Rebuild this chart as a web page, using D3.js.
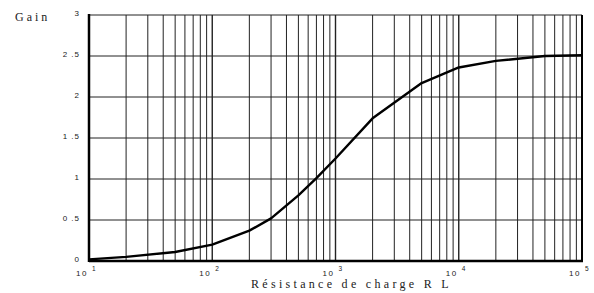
<!DOCTYPE html>
<html>
<head>
<meta charset="utf-8">
<script src="https://cdn.jsdelivr.net/npm/d3@7"></script>
<style>
  body { margin: 0; background: #fff; }
  svg { display: block; }
</style>
</head>
<body>
<div class="graphic"></div>
<script>
var resistance = [10, 20, 50, 100, 200, 300, 500, 700, 1000, 2000, 5000, 10000, 20000, 50000, 100000]
var gain       = [0.02, 0.05, 0.11, 0.20, 0.37, 0.52, 0.80, 1.01, 1.25, 1.74, 2.17, 2.36, 2.44, 2.50, 2.51]
var gainTicks  = [0, 0.5, 1, 1.5, 2, 2.5, 3]
var decades    = [1, 2, 3, 4, 5]

var svg_width = 594, svg_height = 293
// note: "top" is taken by window.top, so plot edges get a prefix
var plotLeft = 89, plotRight = 582, plotTop = 15, plotBottom = 261

var svg = d3.select(".graphic")
  .append("svg")
  .attr("width", svg_width)
  .attr("height", svg_height)

var x = d3.scaleLog().domain([10, 100000]).range([plotLeft, plotRight])
var y = d3.scaleLinear().domain([0, 3]).range([plotBottom, plotTop])

// vertical grid: 1..9 inside each decade
var gridX = []
decades.slice(0, -1).forEach(function(p){
  for (var k = 1; k < 10; k++) gridX.push(k * Math.pow(10, p))
})
gridX.push(100000)

svg.append("g").selectAll("line")
  .data(gridX)
  .enter()
  .append("line")
  .attr("x1", function(d){ return x(d) })
  .attr("x2", function(d){ return x(d) })
  .attr("y1", plotTop)
  .attr("y2", plotBottom)
  .attr("stroke", "#222")
  .attr("stroke-width", function(d){ return (Math.log10(d) % 1 === 0) ? 1.4 : 1 })

// horizontal grid
svg.append("g").selectAll("line")
  .data(gainTicks)
  .enter()
  .append("line")
  .attr("x1", plotLeft)
  .attr("x2", plotRight)
  .attr("y1", function(d){ return y(d) })
  .attr("y2", function(d){ return y(d) })
  .attr("stroke", "#222")
  .attr("stroke-width", 1)

// frame: heavy left, bottom, right
svg.append("line").attr("x1", plotLeft).attr("x2", plotLeft).attr("y1", plotTop - 1).attr("y2", plotBottom + 1)
  .attr("stroke", "#000").attr("stroke-width", 2.5)
svg.append("line").attr("x1", plotLeft).attr("x2", plotRight + 1).attr("y1", plotBottom).attr("y2", plotBottom)
  .attr("stroke", "#000").attr("stroke-width", 2.5)
svg.append("line").attr("x1", plotRight).attr("x2", plotRight).attr("y1", plotTop).attr("y2", plotBottom)
  .attr("stroke", "#000").attr("stroke-width", 2)

// curve
var line = d3.line()
  .x(function(d){ return x(d[0]) })
  .y(function(d){ return y(d[1]) })

svg.append("path")
  .datum(d3.zip(resistance, gain))
  .attr("d", line)
  .attr("fill", "none")
  .attr("stroke", "#000")
  .attr("stroke-width", 2.4)
  .attr("stroke-linejoin", "round")

// y tick labels
svg.append("g").selectAll("text")
  .data(gainTicks)
  .enter()
  .append("text")
  .attr("x", 80)
  .attr("y", function(d){ return y(d) + 1 })
  .attr("text-anchor", "end")
  .attr("font-family", "Liberation Sans, Arial, sans-serif")
  .attr("font-size", "8px")
  .attr("letter-spacing", "1px")
  .attr("fill", "#222")
  .text(function(d){ return String(d).replace(".", " .") })

// x tick labels: 10 with exponent
var xl = svg.append("g").selectAll("g")
  .data(decades)
  .enter()
  .append("g")
  .attr("transform", function(d){ return "translate(" + x(Math.pow(10, d)) + ",0)" })

xl.append("text")
  .attr("x", -1)
  .attr("y", 276)
  .attr("text-anchor", "end")
  .attr("font-family", "Liberation Sans, Arial, sans-serif")
  .attr("font-size", "8px")
  .attr("letter-spacing", "1.5px")
  .attr("fill", "#222")
  .text("10")

xl.append("text")
  .attr("x", 3)
  .attr("y", 271)
  .attr("font-family", "Liberation Sans, Arial, sans-serif")
  .attr("font-size", "6.5px")
  .attr("fill", "#222")
  .text(function(d){ return d })

// axis titles
svg.append("text")
  .attr("x", 15)
  .attr("y", 21)
  .attr("font-family", "Liberation Serif, Times New Roman, serif")
  .attr("font-size", "12px")
  .attr("letter-spacing", "3px")
  .attr("fill", "#222")
  .text("Gain")

svg.append("text")
  .attr("x", 251)
  .attr("y", 288)
  .attr("font-family", "Liberation Serif, Times New Roman, serif")
  .attr("font-size", "12px")
  .attr("letter-spacing", "3.3px")
  .attr("fill", "#222")
  .text("Résistance de charge R L")
</script>
</body>
</html>
